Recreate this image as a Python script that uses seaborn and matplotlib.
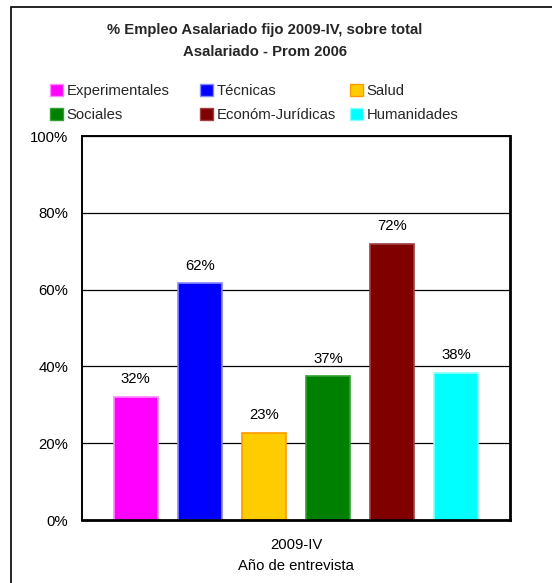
import seaborn as sns
import matplotlib.pyplot as plt
import matplotlib.patches as mpatches

categories = ['Experimentales', 'Técnicas', 'Salud', 'Sociales', 'Económ-Jurídicas', 'Humanidades']
values = [0.321, 0.616, 0.226, 0.374, 0.72, 0.383]
labels = ['32%', '62%', '23%', '37%', '72%', '38%']
fill_colors = ['#FF00FF', '#0000FF', '#FFCC00', '#008000', '#800000', '#00FFFF']
edge_colors = ['#FF88FF', '#8888FF', '#FF9900', '#33A033', '#A04040', '#88FFFF']
period = '2009-IV'

sns.set_style('white')
plt.rcParams['font.family'] = ['Liberation Sans', 'DejaVu Sans']
fs = 10.7

fig = plt.figure(figsize=(5.52, 5.83), dpi=100)
ax = fig.add_axes([82 / 552, 1 - 520 / 583, 428 / 552, 384 / 583])

sns.barplot(x=categories, y=values, hue=categories, palette=fill_colors,
            legend=False, width=0.68, ax=ax, saturation=1)
for bar, ec in zip(ax.patches, edge_colors):
    bar.set_edgecolor(ec)
    bar.set_linewidth(1.2)

for i, (v, lab) in enumerate(zip(values, labels)):
    ax.text(i, v + 0.028, lab, ha='center', va='bottom', fontsize=fs, color='black')

ax.set_ylim(0, 1)
ax.set_xlim(-0.84, 5.84)
ax.set_yticks([0, 0.2, 0.4, 0.6, 0.8, 1.0])
ax.set_yticklabels(['0%', '20%', '40%', '60%', '80%', '100%'], fontsize=fs)
ax.set_xticks([2.5])
ax.set_xticklabels([period], fontsize=fs)
ax.tick_params(axis='x', length=0, pad=13, labelcolor='black')
ax.tick_params(axis='y', length=0, pad=10, labelcolor='black')
ax.set_xlabel('Año de entrevista', fontsize=fs, labelpad=5, color='black')
ax.set_ylabel('')
ax.yaxis.grid(True, color='black', linewidth=0.9)
ax.set_axisbelow(True)
for s in ax.spines.values():
    s.set_visible(True)
    s.set_color('black')
    s.set_linewidth(1.4)
ax.spines['right'].set_linewidth(2)
ax.spines['bottom'].set_linewidth(2)

fig.text(265 / 552, 1 - 41 / 583, '% Empleo Asalariado fijo 2009-IV, sobre total\nAsalariado - Prom 2006',
         ha='center', va='center', fontsize=fs, fontweight='bold', linespacing=1.75)

# legend: three fixed-width columns, two rows each
handles = [mpatches.Patch(facecolor=c, edgecolor=e) for c, e in zip(fill_colors, edge_colors)]
col_x = [50, 200, 350]
for col, x in enumerate(col_x):
    idx = [col, col + 3]
    fig.legend([handles[i] for i in idx], [categories[i] for i in idx],
               loc='upper left', bbox_to_anchor=(x / 552, 1 - 84 / 583), ncol=1,
               frameon=False, fontsize=fs, handlelength=0.85, handleheight=0.85,
               handletextpad=0.25, labelspacing=0.65, borderpad=0, borderaxespad=0)

fig.patches.append(mpatches.Rectangle((11 / 552, -0.1), 1.2, 1 - 7 / 583 + 0.1,
                                      transform=fig.transFigure, fill=False,
                                      edgecolor='black', linewidth=1.2))

fig.savefig('out.png', dpi=100)
